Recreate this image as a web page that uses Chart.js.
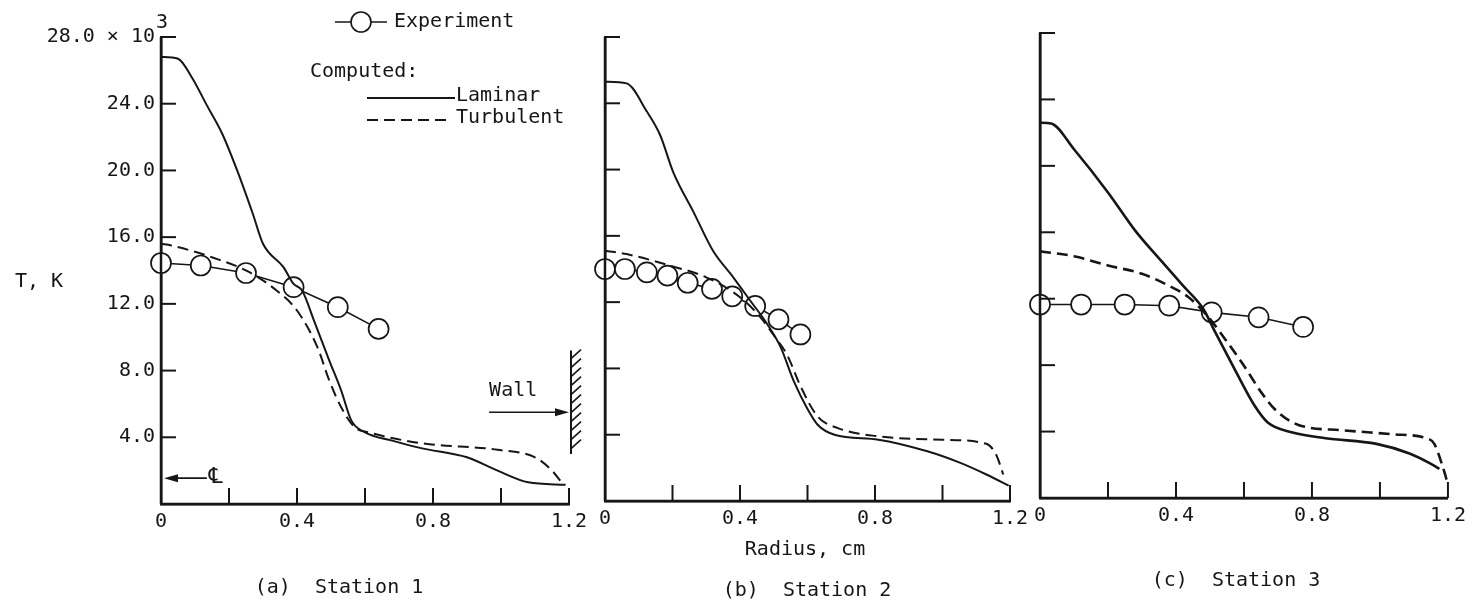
<!DOCTYPE html>
<html>
<head>
<meta charset="utf-8">
<script src="https://cdn.jsdelivr.net/npm/chart.js@4.4.1/dist/chart.umd.min.js"></script>
<style>
  html, body { margin: 0; padding: 0; background: #fff; }
  #wrap { position: relative; width: 1472px; height: 606px; }
  #wrap canvas { position: absolute; left: 0; top: 0; }
</style>
</head>
<body>
<div id="wrap">
  <canvas id="panelA" width="1472" height="606"></canvas>
  <canvas id="panelB" width="1472" height="606"></canvas>
  <canvas id="panelC" width="1472" height="606"></canvas>
</div>
<script>
// radius in cm, temperature in 10^3 K

// (a) station 1
const radLamA = [0, 0.05, 0.09, 0.135, 0.18, 0.224, 0.27, 0.30, 0.36, 0.39, 0.415, 0.45, 0.495, 0.53, 0.56, 0.60, 0.68, 0.765, 0.9, 0.99, 1.08, 1.19];
const tLamA   = [26.8, 26.7, 25.6, 23.9, 22.2, 20.0, 17.4, 15.6, 14.2, 13.2, 12.8, 11.0, 8.6, 6.8, 5.0, 4.3, 3.8, 3.35, 2.8, 2.0, 1.3, 1.15];
const radTurA = [0, 0.03, 0.156, 0.26, 0.34, 0.40, 0.46, 0.495, 0.53, 0.57, 0.61, 0.765, 0.99, 1.10, 1.15, 1.18];
const tTurA   = [15.6, 15.5, 14.75, 13.9, 12.8, 11.6, 9.4, 7.4, 5.8, 4.6, 4.3, 3.65, 3.25, 2.8, 2.0, 1.25];
const radExpA = [0, 0.117, 0.25, 0.39, 0.52, 0.64];
const tExpA   = [14.45, 14.3, 13.85, 13.0, 11.8, 10.5];

// (b) station 2
const radLamB = [0, 0.064, 0.124, 0.163, 0.203, 0.262, 0.32, 0.38, 0.43, 0.48, 0.52, 0.56, 0.60, 0.63, 0.68, 0.81, 0.955, 1.053, 1.13, 1.196];
const tLamB   = [25.3, 25.2, 23.5, 22.1, 19.8, 17.45, 15.1, 13.5, 12.1, 10.7, 9.3, 7.2, 5.55, 4.6, 4.0, 3.7, 3.0, 2.3, 1.6, 0.93];
const radTurB = [0, 0.064, 0.193, 0.30, 0.40, 0.46, 0.50, 0.54, 0.58, 0.63, 0.69, 0.81, 1.0, 1.13, 1.16, 1.18];
const tTurB   = [15.1, 14.9, 14.2, 13.5, 12.3, 11.1, 10.0, 8.8, 6.9, 5.1, 4.4, 3.9, 3.7, 3.45, 2.75, 1.6];
const radExpB = [0, 0.059, 0.124, 0.185, 0.245, 0.317, 0.377, 0.445, 0.514, 0.579];
const tExpB   = [14.0, 14.0, 13.8, 13.6, 13.17, 12.8, 12.35, 11.77, 10.96, 10.05];

// (c) station 3
const radLamC = [0, 0.033, 0.10, 0.20, 0.28, 0.36, 0.42, 0.48, 0.515, 0.574, 0.63, 0.67, 0.74, 0.84, 0.99, 1.087, 1.146, 1.175];
const tLamC   = [22.6, 22.55, 21.0, 18.4, 16.1, 14.2, 12.8, 11.4, 10.0, 7.7, 5.6, 4.55, 3.96, 3.6, 3.26, 2.68, 2.1, 1.75];
const radTurC = [0, 0.10, 0.20, 0.30, 0.377, 0.436, 0.495, 0.545, 0.594, 0.653, 0.69, 0.76, 0.89, 1.037, 1.136, 1.16, 1.185, 1.2];
const tTurC   = [14.86, 14.56, 14.0, 13.5, 12.8, 12.1, 10.9, 9.55, 8.15, 6.3, 5.36, 4.4, 4.08, 3.84, 3.6, 3.26, 1.86, 0.82];
const radExpC = [0, 0.121, 0.249, 0.38, 0.505, 0.643, 0.774];
const tExpC   = [11.65, 11.65, 11.65, 11.58, 11.18, 10.88, 10.3];

// tick labels
const radiusLabels = ['0', '0.4', '0.8', '1.2'];
const tempLabels = ['', '4.0', '8.0', '12.0', '16.0', '20.0', '24.0', '28.0 \u00d7 10'];

const INK = '#161616';
const FONT = '"DejaVu Sans Mono", "Liberation Mono", monospace';
const Y_AXIS_W = 130, X_AXIS_H = 40;

Chart.defaults.font.family = FONT;
Chart.defaults.font.size = 20;
Chart.defaults.color = INK;

const pts = (xs, ys) => xs.map((x, i) => ({ x: x, y: ys[i] }));

function line(ctx, x1, y1, x2, y2) {
  ctx.beginPath(); ctx.moveTo(x1, y1); ctx.lineTo(x2, y2); ctx.stroke();
}

function arrowHead(ctx, x, y, dir) {
  ctx.beginPath();
  ctx.moveTo(x, y);
  ctx.lineTo(x - dir * 14, y - 4);
  ctx.lineTo(x - dir * 14, y + 4);
  ctx.closePath();
  ctx.fill();
}

// inward ticks, axis lines on top of markers, and the text round each panel
const decor = {
  id: 'decor',
  afterDatasetsDraw(chart, args, opts) {
    const ctx = chart.ctx;
    const xs = chart.scales.x, ys = chart.scales.y;
    const a = chart.chartArea;
    ctx.save();
    ctx.strokeStyle = INK;
    ctx.fillStyle = INK;
    ctx.lineWidth = 2;
    xs.ticks.forEach(t => {
      if (t.value <= 0) return;
      const px = xs.getPixelForValue(t.value);
      line(ctx, px, a.bottom, px, a.bottom - 16);
    });
    ys.ticks.forEach(t => {
      if (t.value <= 0) return;
      const py = ys.getPixelForValue(t.value);
      line(ctx, a.left, py, a.left + 15, py);
    });
    ctx.lineWidth = 2.5;
    line(ctx, a.left, a.top, a.left, a.bottom);
    line(ctx, a.left, a.bottom, a.right, a.bottom);

    ctx.font = '20px ' + FONT;
    ctx.textBaseline = 'middle';
    (opts.texts || []).forEach(t => {
      ctx.textAlign = t.align || 'center';
      ctx.fillText(t.text, t.x, t.y);
    });

    if (opts.station1) {
      // superscript of the top tick label
      ctx.textAlign = 'left';
      ctx.fillText('3', a.left - 5, ys.getPixelForValue(28) - 14);

      // legend
      ctx.lineWidth = 1.6;
      line(ctx, 335, 22, 387, 22);
      ctx.beginPath();
      ctx.arc(361, 22, 10, 0, Math.PI * 2);
      ctx.fillStyle = '#fff'; ctx.fill();
      ctx.fillStyle = INK; ctx.stroke();
      ctx.fillText('Experiment', 394, 22);
      ctx.fillText('Computed:', 310, 72);
      ctx.lineWidth = 2;
      line(ctx, 367, 98, 455, 98);
      ctx.fillText('Laminar', 456, 96);
      ctx.setLineDash([11, 6]);
      line(ctx, 367, 120, 452, 120);
      ctx.setLineDash([]);
      ctx.fillText('Turbulent', 456, 118);

      // wall at r = 1.2
      const wx = xs.getPixelForValue(1.2) + 2;
      const wTop = ys.getPixelForValue(9.2), wBot = ys.getPixelForValue(3.0);
      line(ctx, wx, wTop, wx, wBot);
      ctx.lineWidth = 1.6;
      for (let y = wTop + 8; y <= wBot; y += 9) line(ctx, wx, y, wx + 10, y - 9);
      const ay = ys.getPixelForValue(5.5);
      line(ctx, xs.getPixelForValue(0.965), ay, wx - 10, ay);
      arrowHead(ctx, wx - 2, ay, 1);
      ctx.textAlign = 'left';
      ctx.fillText('Wall', xs.getPixelForValue(0.965), ys.getPixelForValue(6.8));

      // centre line marker
      const cy = ys.getPixelForValue(1.55);
      line(ctx, xs.getPixelForValue(0.135), cy, a.left + 10, cy);
      arrowHead(ctx, a.left + 3, cy, -1);
      ctx.font = '22px "DejaVu Sans", sans-serif';
      ctx.fillText('\u2104', xs.getPixelForValue(0.14), cy - 1);
    }
    ctx.restore();
  }
};

function datasets(rl, tl, rt, tt, re, te, w) {
  return [
    { label: 'Laminar', data: pts(rl, tl), borderColor: INK, borderWidth: w,
      pointRadius: 0, cubicInterpolationMode: 'monotone', clip: false },
    { label: 'Turbulent', data: pts(rt, tt), borderColor: INK, borderWidth: w,
      borderDash: [11, 6], pointRadius: 0, cubicInterpolationMode: 'monotone', clip: false },
    { label: 'Experiment', data: pts(re, te), borderColor: INK, borderWidth: 1.6,
      pointRadius: 10, pointBackgroundColor: '#fff', pointBorderColor: INK,
      pointBorderWidth: 1.7, tension: 0, clip: false }
  ];
}

function makePanel(id, box, data, showY, decorOpts) {
  new Chart(document.getElementById(id), {
    type: 'line',
    data: { datasets: data },
    options: {
      responsive: false,
      animation: false,
      events: [],
      layout: { padding: {
        left: box.left - Y_AXIS_W, right: 1472 - box.right,
        top: box.top, bottom: 606 - box.bottom - X_AXIS_H } },
      plugins: { legend: { display: false }, tooltip: { enabled: false }, decor: decorOpts },
      scales: {
        x: {
          type: 'linear', min: 0, max: 1.2,
          afterFit: s => { s.height = X_AXIS_H; },
          grid: { display: false, drawTicks: false },
          border: { color: INK, width: 2.5 },
          ticks: {
            stepSize: 0.2, padding: 6, maxRotation: 0, autoSkip: false,
            callback: (v, i) => (i % 2 === 0 ? radiusLabels[i / 2] : '')
          }
        },
        y: {
          type: 'linear', min: 0, max: 28,
          afterFit: s => { s.width = Y_AXIS_W; },
          grid: { display: false, drawTicks: false },
          border: { color: INK, width: 2.5 },
          ticks: {
            stepSize: 4, padding: 6, autoSkip: false,
            callback: (v, i) => (showY ? tempLabels[i] : '')
          }
        }
      }
    },
    plugins: [decor]
  });
}

makePanel('panelA', { left: 161, right: 569, top: 37, bottom: 504 },
  datasets(radLamA, tLamA, radTurA, tTurA, radExpA, tExpA, 2), true,
  { station1: true, texts: [
    { text: 'T, K', x: 15, y: 282, align: 'left' },
    { text: '(a)  Station 1', x: 339, y: 588 } ] });

makePanel('panelB', { left: 605, right: 1010, top: 37, bottom: 501 },
  datasets(radLamB, tLamB, radTurB, tTurB, radExpB, tExpB, 2), false,
  { texts: [
    { text: 'Radius, cm', x: 805, y: 550 },
    { text: '(b)  Station 2', x: 807, y: 591 } ] });

makePanel('panelC', { left: 1040, right: 1449, top: 33, bottom: 498 },
  datasets(radLamC, tLamC, radTurC, tTurC, radExpC, tExpC, 2.6), false,
  { texts: [
    { text: '(c)  Station 3', x: 1236, y: 581 } ] });
</script>
</body>
</html>
